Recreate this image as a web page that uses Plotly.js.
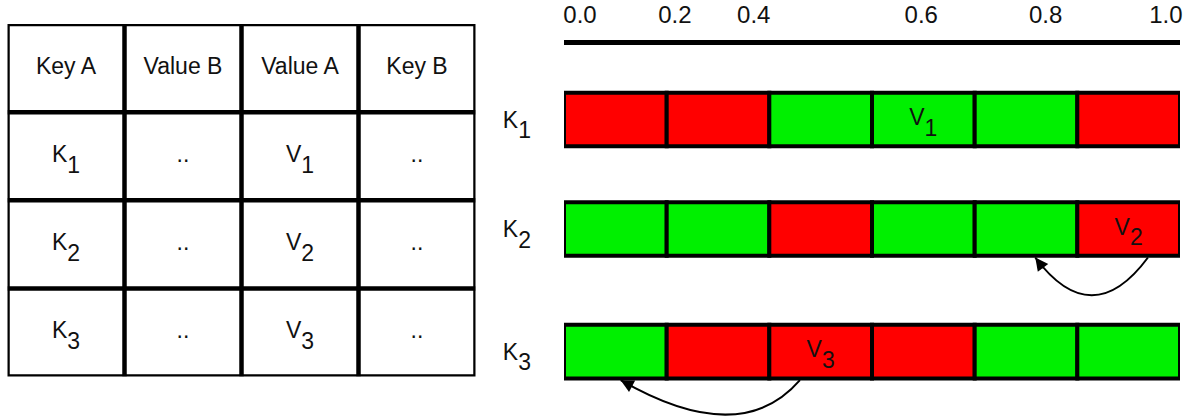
<!DOCTYPE html>
<html><head><meta charset="utf-8">
<script src="https://cdn.plot.ly/plotly-3.0.1.min.js"></script>
<style>html,body{margin:0;padding:0;background:#fff}</style>
</head><body><div id="chart" style="width:1192px;height:419px"></div>
<script>
// ---- table data ----
const headers = ['Key A', 'Value B', 'Value A', 'Key B'];
const colKeyA = ['K<sub>1</sub>', 'K<sub>2</sub>', 'K<sub>3</sub>'];
const colValueB = ['..', '..', '..'];
const colValueA = ['V<sub>1</sub>', 'V<sub>2</sub>', 'V<sub>3</sub>'];
const colKeyB = ['..', '..', '..'];

// ---- bar rows ----
const rowLabels = ['K<sub>1</sub>', 'K<sub>2</sub>', 'K<sub>3</sub>'];
const rowPos = [1, 2, 3.12];
const segStart = [0, 0.1667, 0.3333, 0.5, 0.6667, 0.8333];
const segWidth = [0.1667, 0.1667, 0.1667, 0.1667, 0.1667, 0.1667];
const rowColors = [
  ['red', 'red', 'green', 'green', 'green', 'red'],
  ['green', 'green', 'red', 'green', 'green', 'red'],
  ['green', 'red', 'red', 'red', 'green', 'green']
];
const valueLabels = ['V<sub>1</sub>', 'V<sub>2</sub>', 'V<sub>3</sub>'];
const valueSeg = [3, 5, 2];

// ---- top axis ----
const tickVals = [0.026, 0.180, 0.308, 0.580, 0.782, 0.977];
const tickText = ['0.0', '0.2', '0.4', '0.6', '0.8', '1.0'];

// ---- arrows (row index, from x, to x, control x, dip) ----
const arrowRow = [1, 2];
const arrowFrom = [0.948, 0.383];
const arrowTo = [0.765, 0.092];
const arrowCtrlX = [0.857, 0.286];
const arrowDip = [0.69, 0.63];

const RED = '#ff0000', GREEN = '#00f000';
const FONT = 'Liberation Sans, Arial, Helvetica, sans-serif';
const FS = 23;
const barHalf = 0.245;

// subscripts in the reference are full-size digits dropped below the baseline
function bigSub(s) {
  return s.replace(/<sub>(.*?)<\/sub>/g,
    (m, d) => `<sub><sub><sub><span style="font-size:${FS}px">${d}</span></sub></sub></sub>`);
}

// bars
const bx = [], by = [], bbase = [], bcol = [];
rowColors.forEach((cols, r) => {
  cols.forEach((c, s) => {
    bx.push(segWidth[s]); by.push(rowPos[r]); bbase.push(segStart[s]);
    bcol.push(c === 'red' ? RED : GREEN);
  });
});
const barTrace = {
  type: 'bar', orientation: 'h', x: bx, y: by, base: bbase, width: 2 * barHalf,
  marker: {color: bcol, line: {color: '#000', width: 4}},
  cliponaxis: false, hoverinfo: 'skip', xaxis: 'x', yaxis: 'y'
};
const valTrace = {
  type: 'scatter', mode: 'text',
  x: valueSeg.map(s => segStart[s] + segWidth[s] / 2),
  y: rowPos, text: valueLabels.map(bigSub), textposition: 'middle center',
  textfont: {family: FONT, size: FS, color: '#111'},
  cliponaxis: false, hoverinfo: 'skip', xaxis: 'x', yaxis: 'y'
};

// table texts
const tx = [], ty = [], tt = [];
headers.forEach((h, c) => { tx.push(c + 0.5); ty.push(0.5); tt.push(h); });
const cols = [colKeyA, colValueB, colValueA, colKeyB];
cols.forEach((col, c) => col.forEach((v, r) => { tx.push(c + 0.5); ty.push(r + 1.5); tt.push(bigSub(v)); }));
const tableTrace = {
  type: 'scatter', mode: 'text', x: tx, y: ty, text: tt, textposition: 'middle center',
  textfont: {family: FONT, size: FS, color: '#111'},
  cliponaxis: false, hoverinfo: 'skip', xaxis: 'x2', yaxis: 'y2'
};

const shapes = [];
shapes.push({type: 'rect', xref: 'x2', yref: 'y2', x0: 0, x1: headers.length, y0: 0, y1: colKeyA.length + 1,
  line: {color: '#000', width: 4.5}});
for (let c = 1; c < headers.length; c++) {
  shapes.push({type: 'line', xref: 'x2', yref: 'y2', x0: c, x1: c, y0: 0, y1: colKeyA.length + 1, line: {color: '#000', width: 4.5}});
}
for (let r = 1; r <= colKeyA.length; r++) {
  shapes.push({type: 'line', xref: 'x2', yref: 'y2', x0: 0, x1: headers.length, y0: r, y1: r, line: {color: '#000', width: 4.5}});
}

const annotations = [];
arrowRow.forEach((r, i) => {
  const yb = rowPos[r] + barHalf + 0.015;
  const cy = yb + arrowDip[i];
  shapes.push({type: 'path', xref: 'x', yref: 'y',
    path: `M ${arrowFrom[i]},${yb} Q ${arrowCtrlX[i]},${cy} ${arrowTo[i]},${yb}`,
    line: {color: '#000', width: 2}});
  annotations.push({xref: 'x', yref: 'y', x: arrowTo[i], y: yb, text: '', showarrow: true,
    arrowhead: 2, arrowsize: 1.3, arrowwidth: 2, arrowcolor: '#000', standoff: 0,
    ax: i === 0 ? 9 : 13, ay: i === 0 ? 12 : 7});
});

const layout = {
  width: 1192, height: 419, margin: {l: 0, r: 0, t: 0, b: 0},
  paper_bgcolor: '#fff', plot_bgcolor: 'rgba(0,0,0,0)', showlegend: false,
  font: {family: FONT, size: FS, color: '#111'},
  xaxis: {domain: [564 / 1192, 1180 / 1192], range: [0, 1], side: 'top', anchor: 'y',
    showline: true, linewidth: 5, linecolor: '#000', ticks: '', tickvals: tickVals, ticktext: tickText,
    showgrid: false, zeroline: false, fixedrange: true, ticklabelstandoff: 7,
    tickfont: {family: FONT, size: 24, color: '#111'}},
  yaxis: {domain: [0, 1 - 45 / 419], range: [3.735, 0.3196], anchor: 'x',
    tickvals: rowPos, ticktext: rowLabels.map(bigSub), ticks: '', showline: false, showgrid: false, zeroline: false,
    fixedrange: true, ticklabelstandoff: 32, tickfont: {family: FONT, size: FS, color: '#111'}},
  xaxis2: {domain: [7.5 / 1192, 475.5 / 1192], range: [0, 4], visible: false, anchor: 'y2', fixedrange: true},
  yaxis2: {domain: [1 - 376.5 / 419, 1 - 24 / 419], range: [4, 0], visible: false, anchor: 'x2', fixedrange: true},
  shapes: shapes, annotations: annotations, bargap: 0
};

Plotly.newPlot('chart', [barTrace, valTrace, tableTrace], layout, {displayModeBar: false, staticPlot: true});
</script></body></html>
